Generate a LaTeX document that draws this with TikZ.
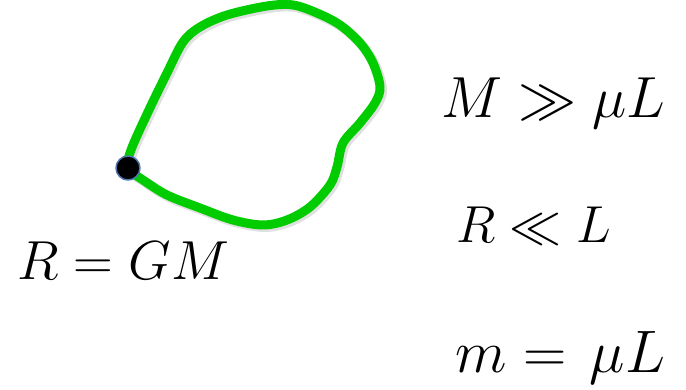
\RequirePackage{fix-cm}
\documentclass[tikz,border=0pt]{standalone}
\definecolor{loopgreen}{RGB}{0,204,0}
\definecolor{dotrim}{RGB}{80,120,175}
\begin{document}
\begin{tikzpicture}[x=1pt, y=-1pt, line join=round, line cap=round,
  eq/.style={anchor=base west, inner sep=0pt, font=\fontsize{58}{66}\selectfont},
  mass/.style={circle, fill=black, draw=dotrim, line width=1.5pt, minimum size=24pt, inner sep=0pt}]
\useasboundingbox (0,0) rectangle (686,390);
\draw[black!12, line width=10pt, xshift=2pt, yshift=-2pt] plot[smooth cycle, tension=0.55] coordinates {
(128,168) (131,150) (148,112) (167,73) (183,42) (200,27) (227,15) (267,6) (293,5)
(317,13) (340,25) (360,43) (373,63) (380,87) (375,103) (360,123) (343,143)
(337,167) (330,185) (310,207) (287,220) (263,225) (233,220) (200,208) (167,195) (143,180)};
\draw[loopgreen, line width=9pt] plot[smooth cycle, tension=0.55] coordinates {
(128,168) (131,150) (148,112) (167,73) (183,42) (200,27) (227,15) (267,6) (293,5)
(317,13) (340,25) (360,43) (373,63) (380,87) (375,103) (360,123) (343,143)
(337,167) (330,185) (310,207) (287,220) (263,225) (233,220) (200,208) (167,195) (143,180)};
\node[mass] (bh) at (128,168) {};
\node[eq, font=\fontsize{55}{64}\selectfont] (rgm) at (17,280) {$R=GM$};
\node[eq] (mmu) at (441,118) {$M\gg\mu L$};
\node[eq, font=\fontsize{52}{60}\selectfont] (rl) at (456,243) {$R\ll L$};
\node[eq, font=\fontsize{60}{68}\selectfont] (mmul) at (455,372) {$m=\mskip2mu\mu L$};
\end{tikzpicture}
\end{document}
